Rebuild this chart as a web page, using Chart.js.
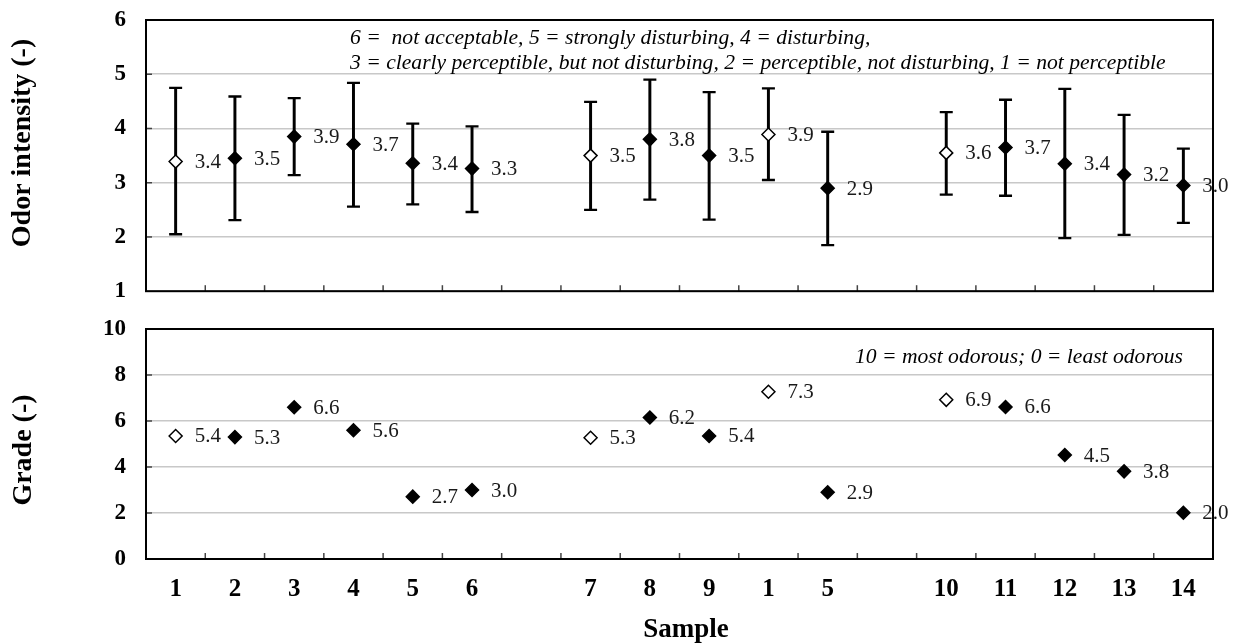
<!DOCTYPE html>
<html>
<head>
<meta charset="utf-8">
<title>Odor intensity and grade per sample</title>
<script src="https://cdn.jsdelivr.net/npm/chart.js@4.4.1/dist/chart.umd.min.js"></script>
<style>
  body { margin: 0; background: #fff; }
  #wrap { position: relative; width: 1233px; height: 644px; }
  #topBox { position: absolute; left: 0; top: 0; width: 1233px; height: 300px; }
  #botBox { position: absolute; left: 0; top: 300px; width: 1233px; height: 344px; }
</style>
</head>
<body>
<div id="wrap">
  <div id="topBox"><canvas id="intensityChart"></canvas></div>
  <div id="botBox"><canvas id="gradeChart"></canvas></div>
</div>
<script>
// empty strings are the spacer slots between the three sample groups
const samples = ['1', '2', '3', '4', '5', '6', '', '7', '8', '9', '1', '5', '', '10', '11', '12', '13', '14'];
const openMarker = [true, false, false, false, false, false, false, true, false, false, true, false, false, true, false, false, false, false];

const intensityMean = [3.39, 3.45, 3.85, 3.71, 3.36, 3.26, null, 3.50, 3.80, 3.50, 3.89, 2.90, null, 3.55, 3.65, 3.35, 3.15, 2.95];
const intensityHigh = [4.75, 4.59, 4.56, 4.84, 4.09, 4.04, null, 4.49, 4.90, 4.67, 4.74, 3.94, null, 4.30, 4.53, 4.73, 4.25, 3.63];
const intensityLow = [2.05, 2.31, 3.14, 2.56, 2.60, 2.46, null, 2.50, 2.69, 2.32, 3.05, 1.85, null, 2.78, 2.76, 1.98, 2.04, 2.26];
const intensityText = ['3.4', '3.5', '3.9', '3.7', '3.4', '3.3', '', '3.5', '3.8', '3.5', '3.9', '2.9', '', '3.6', '3.7', '3.4', '3.2', '3.0'];

const gradeMean = [5.35, 5.30, 6.60, 5.60, 2.71, 3.00, null, 5.27, 6.15, 5.35, 7.27, 2.90, null, 6.92, 6.61, 4.52, 3.81, 2.01];
const gradeText = ['5.4', '5.3', '6.6', '5.6', '2.7', '3.0', '', '5.3', '6.2', '5.4', '7.3', '2.9', '', '6.9', '6.6', '4.5', '3.8', '2.0'];

const intensityRange = [1, 6, 1];   // min, max, step
const gradeRange = [0, 10, 2];

const intensityNote = [
  '6 =  not acceptable, 5 = strongly disturbing, 4 = disturbing,',
  '3 = clearly perceptible, but not disturbing, 2 = perceptible, not disturbing, 1 = not perceptible'
];
const gradeNote = '10 = most odorous; 0 = least odorous';

const serif = '"Liberation Serif", "Times New Roman", serif';

// black frame plus the short inward tick marks
const frame = {
  id: 'frame',
  afterDatasetsDraw(chart) {
    const { ctx, chartArea: a, scales: { x, y } } = chart;
    ctx.save();
    ctx.strokeStyle = '#444';
    ctx.lineWidth = 1.5;
    for (let i = 1; i < x.ticks.length; i++) {
      const px = (x.getPixelForValue(i - 1) + x.getPixelForValue(i)) / 2;
      ctx.beginPath();
      ctx.moveTo(px, a.bottom);
      ctx.lineTo(px, a.bottom - 6);
      ctx.stroke();
    }
    for (let i = 1; i < y.ticks.length - 1; i++) {
      const py = y.getPixelForTick(i);
      ctx.beginPath();
      ctx.moveTo(a.left, py);
      ctx.lineTo(a.left + 6, py);
      ctx.stroke();
    }
    ctx.strokeStyle = '#000';
    ctx.lineWidth = 2;
    ctx.strokeRect(a.left, a.top, a.width, a.height);
    ctx.restore();
  }
};

// value next to each marker, plus notes and axis titles
const texts = {
  id: 'texts',
  afterDraw(chart) {
    const ctx = chart.ctx;
    const cfg = chart.config.options.extraText;
    ctx.save();
    chart.data.datasets.forEach((ds, di) => {
      if (!ds.valueText) return;
      const meta = chart.getDatasetMeta(di);
      ctx.font = '21px ' + serif;
      ctx.fillStyle = '#1a1a1a';
      ctx.textAlign = 'left';
      ctx.textBaseline = 'middle';
      meta.data.forEach((pt, i) => {
        if (!ds.valueText[i]) return;
        ctx.fillText(ds.valueText[i], pt.x + 19, pt.y + 1);
      });
    });
    ctx.fillStyle = '#000';
    ctx.font = 'italic 21.6px ' + serif;
    ctx.textBaseline = 'middle';
    cfg.notes.forEach(n => {
      ctx.textAlign = n.align;
      ctx.fillText(n.text, n.x, n.y);
    });
    ctx.textAlign = 'center';
    if (cfg.yTitle) {
      ctx.font = 'bold 28px ' + serif;
      ctx.save();
      ctx.translate(cfg.yTitle.x, cfg.yTitle.y);
      ctx.rotate(-Math.PI / 2);
      ctx.fillText(cfg.yTitle.text, 0, 0);
      ctx.restore();
    }
    if (cfg.xTitle) {
      ctx.font = 'bold 27px ' + serif;
      ctx.fillText(cfg.xTitle.text, cfg.xTitle.x, cfg.xTitle.y);
    }
    ctx.restore();
  }
};

function buildDatasets(mean, labels, low, high) {
  const sets = [{
    type: 'line',
    data: mean,
    valueText: labels,
    showLine: false,
    pointStyle: 'rectRot',
    pointRadius: 6.5,
    pointBorderWidth: 1.5,
    pointBorderColor: '#000',
    pointBackgroundColor: openMarker.map(o => o ? '#fff' : '#000'),
    order: 0
  }];
  if (low) {
    sets.push({
      type: 'bar',
      data: low.map((lo, i) => lo == null ? null : [lo, high[i]]),
      backgroundColor: '#000',
      barThickness: 2.3,
      order: 2
    });
    [high, low].forEach(edge => sets.push({
      type: 'line',
      data: edge,
      showLine: false,
      pointStyle: 'line',
      pointRadius: 6.5,
      pointBorderWidth: 2.3,
      pointBorderColor: '#000',
      order: 1
    }));
  }
  return sets;
}

function makeChart(id, opts) {
  return new Chart(document.getElementById(id), {
    data: { labels: samples, datasets: opts.datasets },
    plugins: [frame, texts],
    options: {
      responsive: true,
      maintainAspectRatio: false,
      animation: false,
      events: [],
      layout: { padding: opts.padding },
      plugins: { legend: { display: false }, tooltip: { enabled: false } },
      extraText: opts.extraText,
      scales: {
        x: {
          type: 'category',
          offset: true,
          grid: { display: false, drawTicks: false },
          border: { display: false },
          ticks: {
            display: opts.showX,
            autoSkip: false,
            maxRotation: 0,
            padding: 16,
            color: '#000',
            font: { family: serif, size: 25, weight: 'bold' }
          },
          afterFit: s => {
            s.height = opts.xHeight;
            s.paddingLeft = 0;
            s.paddingRight = 0;
          }
        },
        y: {
          min: opts.range[0],
          max: opts.range[1],
          ticks: {
            stepSize: opts.range[2],
            padding: 20,
            color: '#000',
            font: { family: serif, size: 23, weight: 'bold' }
          },
          grid: { color: '#c8c8c8', lineWidth: 1.5, drawTicks: false },
          border: { display: false },
          afterFit: s => {
            s.width = 146;
            s.paddingTop = 0;
            s.paddingBottom = 0;
          }
        }
      }
    }
  });
}

makeChart('intensityChart', {
  datasets: buildDatasets(intensityMean, intensityText, intensityLow, intensityHigh),
  range: intensityRange,
  padding: { top: 20, right: 20, bottom: 6, left: 0 },
  showX: false,
  xHeight: 0,
  extraText: {
    notes: [
      { text: intensityNote[0], x: 350, y: 38, align: 'left' },
      { text: intensityNote[1], x: 350, y: 63, align: 'left' }
    ],
    yTitle: { text: 'Odor intensity (-)', x: 23, y: 143 }
  }
});

makeChart('gradeChart', {
  datasets: buildDatasets(gradeMean, gradeText),
  range: gradeRange,
  padding: { top: 29, right: 20, bottom: 0, left: 0 },
  showX: true,
  xHeight: 85,
  extraText: {
    notes: [{ text: gradeNote, x: 1183, y: 57, align: 'right' }],
    yTitle: { text: 'Grade (-)', x: 24, y: 150 },
    xTitle: { text: 'Sample', x: 686, y: 330 }
  }
});
</script>
</body>
</html>
